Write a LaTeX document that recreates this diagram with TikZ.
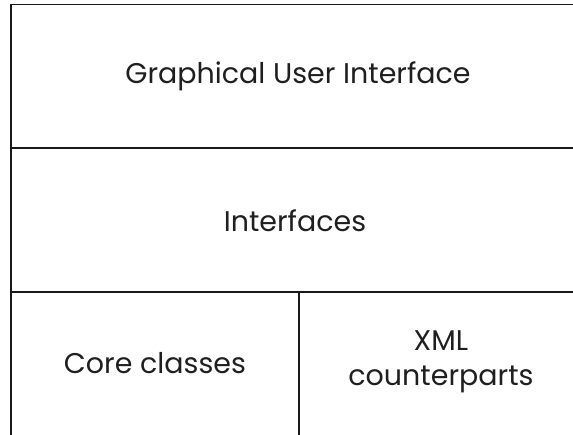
\documentclass[tikz,border=0pt]{standalone}
\usepackage{fontspec}
\setmainfont{Poppins}
\tikzset{
  layer/.style={font=\fontsize{28.5}{35}\selectfont, align=center, text=black!88},
  rule/.style={line width=1.2pt, black!90}
}
\begin{document}
\begin{tikzpicture}[x=1pt,y=-1pt]
    \useasboundingbox (0,0) rectangle (573,434);
    \clip (0,0) rectangle (573,434);
    % outer frame and layer borders
    \draw[rule] (11,440) -- (11,4.5) -- (590,4.5);
    \draw[rule] (11,148) -- (590,148);
    \draw[rule] (11,292) -- (590,292);
    \draw[rule] (299,292) -- (299,440);
    % layer names
    \node[layer] (gui) at (298,76) {Graphical User Interface};
    \node[layer] (ifaces) at (295,221) {Interfaces};
    \node[layer] (core) at (155,363) {Core classes};
    \node[layer] (xml) at (441,362) {XML\\counterparts};
\end{tikzpicture}
\end{document}
